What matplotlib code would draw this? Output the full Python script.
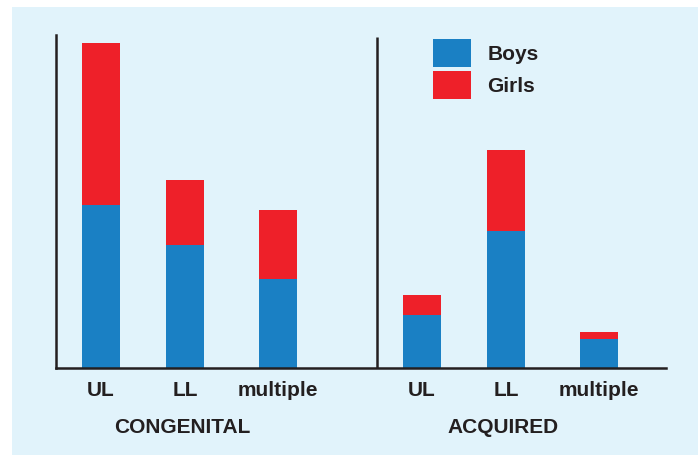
import matplotlib.pyplot as plt
from matplotlib.patches import Rectangle, Patch
from matplotlib.transforms import blended_transform_factory

# values (arbitrary units, bar heights)
categories = ["UL", "LL", "multiple"]
groups = ["CONGENITAL", "ACQUIRED"]
boys = [[163, 123, 89], [53, 137, 29]]
girls = [[162, 65, 69], [20, 81, 7]]

blue = "#1a80c4"
red = "#ee2029"
ink = "#231f20"
panel = "#e1f3fb"

W, H = 698, 455
fig = plt.figure(figsize=(W / 100, H / 100), dpi=100, facecolor="white")
plt.rcParams["font.family"] = ["Liberation Sans", "DejaVu Sans"]

# light blue panel behind the chart
fig.patches.append(Rectangle((12 / W, 0), 1 - 12 / W, 1 - 7 / H,
                             transform=fig.transFigure, facecolor=panel,
                             edgecolor="none", zorder=-1))

ax = fig.add_axes([56 / W, 1 - 368 / H, 610 / W, 333 / H])
ax.set_zorder(1)
ax.set_facecolor("none")
ax.set_xlim(0, 610)
ax.set_ylim(0, 333)

offsets = [45, 129, 222]
group_shift = 321
bar_w = 38

xs, labels = [], []
for g in range(len(groups)):
    pos = [o + g * group_shift for o in offsets]
    ax.bar(pos, boys[g], width=bar_w, color=blue, zorder=2)
    ax.bar(pos, girls[g], width=bar_w, bottom=boys[g], color=red, zorder=2)
    xs += pos
    labels += categories
    ax.text(pos[1] - 3, -0.18, groups[g], transform=blended_transform_factory(ax.transData, ax.transAxes),
            ha="center", va="center", fontsize=15, fontweight="bold", color=ink)

# divider between the two groups
ax.plot([group_shift, group_shift], [0, 331], color=ink, lw=1.8, zorder=3, solid_capstyle="butt")

ax.set_xticks(xs)
ax.set_xticklabels(labels, fontsize=15, fontweight="bold", color=ink)
ax.tick_params(axis="x", length=0, pad=9)
ax.set_yticks([])

for s in ["top", "right"]:
    ax.spines[s].set_visible(False)
ax.spines["left"].set_linewidth(1.8)
ax.spines["bottom"].set_linewidth(1.8)
ax.spines["left"].set_color(ink)
ax.spines["bottom"].set_color(ink)

handles = [Patch(facecolor=blue, label="Boys"), Patch(facecolor=red, label="Girls")]
leg = fig.legend(handles=handles, loc="upper left", bbox_to_anchor=(433 / W, 1 - 39 / H),
                 frameon=False, borderpad=0, borderaxespad=0, handlelength=1.81, handleheight=1.68,
                 handletextpad=0.8, labelspacing=0.2,
                 prop={"size": 15, "weight": "bold"})
for t in leg.get_texts():
    t.set_color(ink)

fig.savefig("out.png", dpi=100, facecolor="white")
